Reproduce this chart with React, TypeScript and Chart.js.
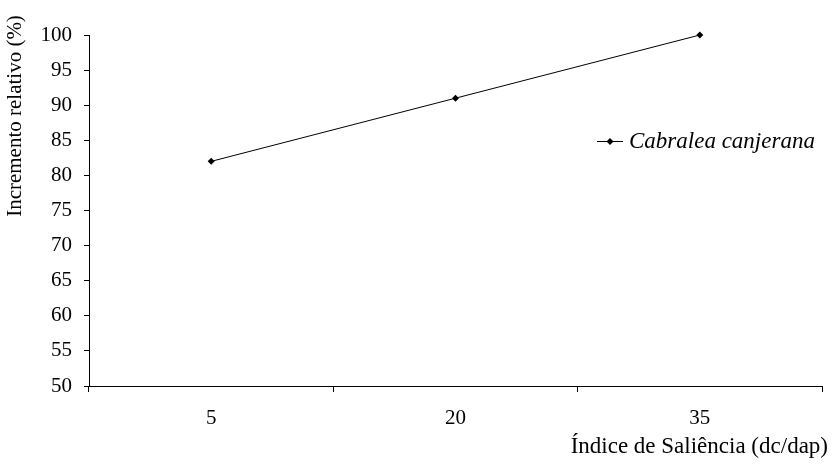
import { useEffect, useRef } from 'react';
import { Chart, registerables } from 'chart.js';

Chart.register(...registerables);

const categories = ['5', '20', '35'];
const seriesName = 'Cabralea canjerana';
const values = [82, 91, 100];
const yMin = 50;
const yMax = 100;
const yStep = 5;
const yTitle = 'Incremento relativo (%)';
const xTitle = 'Índice de Saliência (dc/dap)';

const FONT = "'Liberation Serif', 'Times New Roman', Times, serif";

export default function App() {
  const ref = useRef<HTMLCanvasElement>(null);

  useEffect(() => {
    document.body.style.margin = '0';
    const canvas = ref.current;
    if (!canvas) return;
    let chart: Chart | null = null;
    let cancelled = false;

    const textPlugin = {
      id: 'customText',
      afterDraw(c: any) {
        const ctx = c.ctx as CanvasRenderingContext2D;
        ctx.save();
        ctx.fillStyle = '#000';
        ctx.font = `21px ${FONT}`;
        ctx.textAlign = 'center';
        ctx.textBaseline = 'middle';
        ctx.translate(15, 116);
        ctx.rotate(-Math.PI / 2);
        ctx.fillText(yTitle, 0, 0);
        ctx.restore();

        ctx.save();
        ctx.fillStyle = '#000';
        ctx.font = `23px ${FONT}`;
        ctx.textAlign = 'right';
        ctx.textBaseline = 'middle';
        ctx.fillText(xTitle, 828, 447);
        ctx.restore();

        ctx.save();
        ctx.strokeStyle = '#000';
        ctx.lineWidth = 1;
        ctx.beginPath();
        ctx.moveTo(597, 141.5);
        ctx.lineTo(623, 141.5);
        ctx.stroke();
        ctx.fillStyle = '#000';
        ctx.beginPath();
        ctx.moveTo(610, 138);
        ctx.lineTo(613.5, 141.5);
        ctx.lineTo(610, 145);
        ctx.lineTo(606.5, 141.5);
        ctx.closePath();
        ctx.fill();
        ctx.font = `italic 23px ${FONT}`;
        ctx.textAlign = 'left';
        ctx.textBaseline = 'middle';
        ctx.fillText(seriesName, 629, 142);
        ctx.restore();
      },
    };

    const build = () => {
      if (cancelled) return;
      chart = new Chart(canvas, {
        type: 'line',
        data: {
          labels: categories,
          datasets: [
            {
              label: seriesName,
              data: values,
              borderColor: '#000',
              backgroundColor: '#000',
              borderWidth: 1,
              pointStyle: 'rectRot',
              pointRadius: 3.5,
              pointBackgroundColor: '#000',
              pointBorderColor: '#000',
              pointBorderWidth: 0,
              tension: 0,
              fill: false,
              clip: false,
            },
          ],
        },
        options: {
          responsive: false,
          animation: false,
          devicePixelRatio: 1,
          layout: { padding: { top: 35, right: 11, left: 0, bottom: 0 } },
          plugins: {
            legend: { display: false },
            tooltip: { enabled: false },
          },
          scales: {
            x: {
              type: 'category',
              offset: true,
              grid: {
                display: true,
                offset: true,
                drawOnChartArea: false,
                drawTicks: true,
                tickLength: 6,
                color: '#000',
              },
              border: { display: true, color: '#000', width: 1 },
              ticks: {
                color: '#000',
                font: { family: FONT, size: 21 },
                padding: 14,
                maxRotation: 0,
              },
              afterFit(scale: any) {
                scale.height = 86;
              },
            },
            y: {
              min: yMin,
              max: yMax,
              grid: {
                display: true,
                drawOnChartArea: false,
                drawTicks: true,
                tickLength: 5,
                color: '#000',
              },
              border: { display: true, color: '#000', width: 1 },
              ticks: {
                stepSize: yStep,
                color: '#000',
                font: { family: FONT, size: 21 },
                padding: 12,
              },
              afterFit(scale: any) {
                scale.width = 89;
              },
            },
          },
        },
        plugins: [textPlugin],
      } as any);
    };

    const fonts = (document as any).fonts;
    if (fonts && fonts.load) {
      Promise.all([
        fonts.load(`21px 'Liberation Serif'`),
        fonts.load(`italic 23px 'Liberation Serif'`),
      ]).then(build, build);
    } else {
      build();
    }

    return () => {
      cancelled = true;
      if (chart) chart.destroy();
    };
  }, []);

  return (
    <div style={{ width: 833, height: 472 }}>
      <canvas ref={ref} width={833} height={472} style={{ display: 'block' }} />
    </div>
  );
}
